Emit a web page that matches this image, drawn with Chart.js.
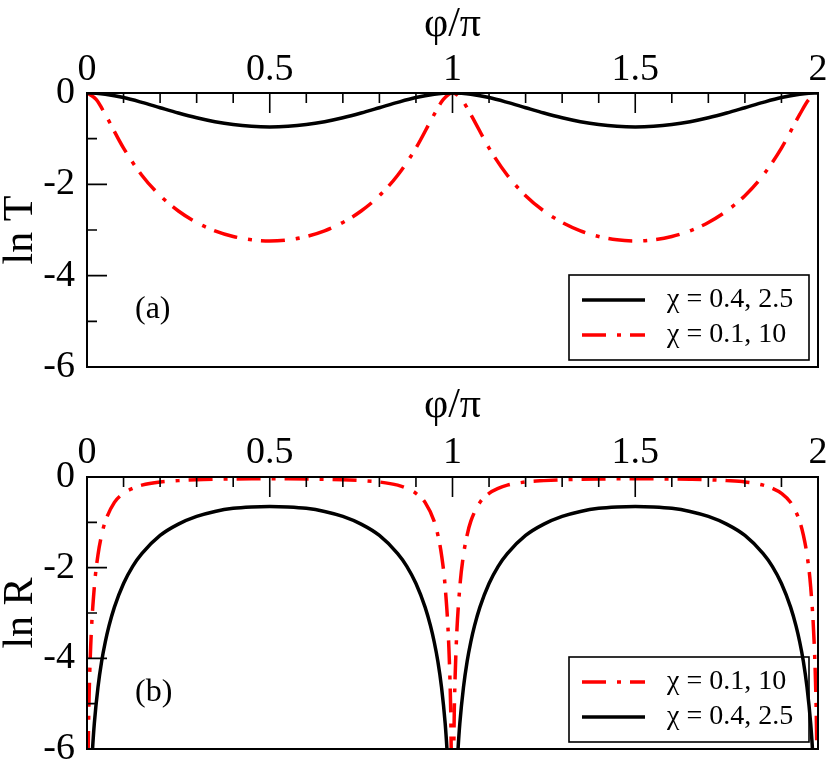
<!DOCTYPE html>
<html>
<head>
<meta charset="utf-8">
<script src="https://cdn.jsdelivr.net/npm/chart.js@4.4.0/dist/chart.umd.min.js"></script>
<style>
  html, body { margin: 0; padding: 0; background: #fff; }
  #wrap { position: relative; width: 830px; height: 767px; }
  .panel { position: absolute; left: 0; width: 830px; }
</style>
</head>
<body>
<div id="wrap">
  <div class="panel" style="top:0;height:383px"><canvas id="chartT" width="830" height="383"></canvas></div>
  <div class="panel" style="top:383px;height:384px"><canvas id="chartR" width="830" height="384"></canvas></div>
</div>
<script>
// panel (a): ln T against phi/pi
const phiT = [0, 0.025, 0.05, 0.1, 0.15, 0.2, 0.25, 0.3, 0.35, 0.4, 0.45, 0.5, 0.55, 0.6, 0.65, 0.7, 0.75, 0.8, 0.85, 0.9, 0.95, 0.975, 1,
  1.025, 1.05, 1.1, 1.15, 1.2, 1.25, 1.3, 1.35, 1.4, 1.45, 1.5, 1.55, 1.6, 1.65, 1.7, 1.75, 1.8, 1.85, 1.9, 1.95, 1.975, 2];
const lnT_chi04 = [0, -0.007, -0.027, -0.100, -0.205, -0.323, -0.439, -0.543, -0.629, -0.692, -0.730, -0.743, -0.730, -0.692, -0.629, -0.543, -0.439, -0.323, -0.205, -0.100, -0.027, -0.007, 0,
  -0.007, -0.027, -0.100, -0.205, -0.323, -0.439, -0.543, -0.629, -0.692, -0.730, -0.743, -0.730, -0.692, -0.629, -0.543, -0.439, -0.323, -0.205, -0.100, -0.027, -0.007, 0];
const lnT_chi01 = [0, -0.141, -0.469, -1.206, -1.800, -2.248, -2.584, -2.835, -3.018, -3.142, -3.215, -3.239, -3.215, -3.142, -3.018, -2.835, -2.584, -2.248, -1.800, -1.206, -0.469, -0.141, 0,
  -0.141, -0.469, -1.206, -1.800, -2.248, -2.584, -2.835, -3.018, -3.142, -3.215, -3.239, -3.215, -3.142, -3.018, -2.835, -2.584, -2.248, -1.800, -1.206, -0.469, -0.141, 0];

// panel (b): ln R against phi/pi
const phiR_chi04 = [0.012, 0.015, 0.02, 0.03, 0.04, 0.05, 0.06, 0.075, 0.1, 0.125, 0.15, 0.2, 0.25, 0.3, 0.35, 0.4, 0.45, 0.5,
  0.55, 0.6, 0.65, 0.7, 0.75, 0.8, 0.85, 0.875, 0.9, 0.925, 0.94, 0.95, 0.96, 0.97, 0.98, 0.985, 0.988,
  1.012, 1.015, 1.02, 1.03, 1.04, 1.05, 1.06, 1.075, 1.1, 1.125, 1.15, 1.2, 1.25, 1.3, 1.35, 1.4, 1.45, 1.5,
  1.55, 1.6, 1.65, 1.7, 1.75, 1.8, 1.85, 1.875, 1.9, 1.925, 1.94, 1.95, 1.96, 1.97, 1.98, 1.985, 1.988];
const lnR_chi04 = [-6.46, -6.02, -5.44, -4.64, -4.07, -3.64, -3.29, -2.87, -2.35, -1.97, -1.69, -1.29, -1.04, -0.87, -0.76, -0.69, -0.66, -0.65,
  -0.66, -0.69, -0.76, -0.87, -1.04, -1.29, -1.69, -1.97, -2.35, -2.87, -3.29, -3.64, -4.07, -4.64, -5.44, -6.02, -6.46,
  -6.46, -6.02, -5.44, -4.64, -4.07, -3.64, -3.29, -2.87, -2.35, -1.97, -1.69, -1.29, -1.04, -0.87, -0.76, -0.69, -0.66, -0.65,
  -0.66, -0.69, -0.76, -0.87, -1.04, -1.29, -1.69, -1.97, -2.35, -2.87, -3.29, -3.64, -4.07, -4.64, -5.44, -6.02, -6.46];
const phiR_chi01 = [0.003, 0.005, 0.01, 0.02, 0.03, 0.04, 0.05, 0.075, 0.1, 0.125, 0.15, 0.2, 0.25, 0.3, 0.35, 0.4, 0.45, 0.5,
  0.55, 0.6, 0.65, 0.7, 0.75, 0.8, 0.85, 0.875, 0.9, 0.925, 0.95, 0.96, 0.97, 0.98, 0.99, 0.995, 0.997,
  1.003, 1.005, 1.01, 1.02, 1.03, 1.04, 1.05, 1.075, 1.1, 1.125, 1.15, 1.2, 1.25, 1.3, 1.35, 1.4, 1.45, 1.5,
  1.55, 1.6, 1.65, 1.7, 1.75, 1.8, 1.85, 1.875, 1.9, 1.925, 1.95, 1.96, 1.97, 1.98, 1.99, 1.995, 1.997];
const lnR_chi01 = [-6.13, -5.11, -3.75, -2.43, -1.72, -1.28, -0.98, -0.56, -0.36, -0.25, -0.18, -0.11, -0.08, -0.06, -0.05, -0.044, -0.041, -0.040,
  -0.041, -0.044, -0.05, -0.06, -0.08, -0.11, -0.18, -0.25, -0.36, -0.56, -0.98, -1.28, -1.72, -2.43, -3.75, -5.11, -6.13,
  -6.13, -5.11, -3.75, -2.43, -1.72, -1.28, -0.98, -0.56, -0.36, -0.25, -0.18, -0.11, -0.08, -0.06, -0.05, -0.044, -0.041, -0.040,
  -0.041, -0.044, -0.05, -0.06, -0.08, -0.11, -0.18, -0.25, -0.36, -0.56, -0.98, -1.28, -1.72, -2.43, -3.75, -5.11, -6.13];

const labelChi04 = 'χ = 0.4, 2.5';
const labelChi01 = 'χ = 0.1, 10';
const xTitle = 'φ/π';

const SERIF = "'Liberation Serif', 'DejaVu Serif', serif";
const RED_DASH = [24, 11, 4, 9];

function pts(xs, ys) {
  return xs.map((x, i) => ({ x: x, y: ys[i] }));
}

// frame, inward ticks, inset legend and panel tag
const decor = {
  id: 'decor',
  afterDatasetsDraw(chart, args, opts) {
    const { ctx, chartArea: a, scales: { x, y } } = chart;
    ctx.save();
    ctx.strokeStyle = '#000';
    ctx.lineWidth = 2;
    ctx.setLineDash([]);
    ctx.strokeRect(a.left, a.top, a.right - a.left, a.bottom - a.top);

    ctx.lineWidth = 1.6;
    ctx.beginPath();
    for (let i = 0; i <= 20; i++) {
      const px = x.getPixelForValue(i / 10);
      const len = i % 5 === 0 ? 20 : 10;
      ctx.moveTo(px, a.top);
      ctx.lineTo(px, a.top + len);
    }
    for (let j = 0; j >= -6; j--) {
      const py = y.getPixelForValue(j);
      const len = j % 2 === 0 ? 20 : 10;
      ctx.moveTo(a.left, py);
      ctx.lineTo(a.left + len, py);
    }
    ctx.stroke();

    // legend box
    const bw = 240, bh = 85;
    const bx = a.right - 9 - bw, by = a.bottom - 7 - bh;
    ctx.lineWidth = 1.6;
    ctx.strokeRect(bx, by, bw, bh);
    ctx.font = '28px ' + SERIF;
    ctx.textBaseline = 'middle';
    ctx.textAlign = 'left';
    ctx.fillStyle = '#000';
    opts.items.forEach((it, k) => {
      const ry = by + 25 + k * 35;
      ctx.beginPath();
      ctx.strokeStyle = it.color;
      ctx.lineWidth = it.width;
      ctx.setLineDash(it.dash);
      ctx.moveTo(bx + 13, ry);
      ctx.lineTo(bx + 76, ry);
      ctx.stroke();
      ctx.setLineDash([]);
      ctx.fillText(it.text, bx + 98, ry);
    });

    // panel tag
    ctx.font = '32px ' + SERIF;
    ctx.textAlign = 'left';
    ctx.fillText(opts.tag, a.left + 48, y.getPixelForValue(-4.75));
    ctx.restore();
  }
};

function makePanel(id, datasets, yTitle, tag, items, topH, titlePad, tickPad, padBottom) {
  return new Chart(document.getElementById(id), {
    type: 'line',
    data: { datasets: datasets },
    options: {
      responsive: false,
      animation: false,
      layout: { padding: { left: 0, right: 12, top: 0, bottom: padBottom } },
      plugins: {
        legend: { display: false },
        tooltip: { enabled: false },
        decor: { tag: tag, items: items }
      },
      elements: { point: { radius: 0 } },
      scales: {
        x: {
          type: 'linear', position: 'top', min: 0, max: 2,
          grid: { display: false, drawTicks: false },
          border: { display: false },
          ticks: { stepSize: 0.5, autoSkip: false, maxRotation: 0, padding: tickPad, color: '#000',
                   callback: v => String(v),
                   font: { family: SERIF, size: 38, lineHeight: 1 } },
          title: { display: true, text: xTitle, color: '#000', padding: { top: titlePad, bottom: 0 },
                   font: { family: SERIF, size: 42, lineHeight: 1 } },
          afterFit(scale) {
            scale.height = topH;
            scale.paddingLeft = 0; scale.paddingRight = 0;
          }
        },
        y: {
          type: 'linear', min: -6, max: 0,
          grid: { display: false, drawTicks: false },
          border: { display: false },
          ticks: { stepSize: 2, padding: 12, color: '#000',
                   callback: v => String(v),
                   font: { family: SERIF, size: 38, lineHeight: 1 } },
          title: { display: true, text: yTitle, color: '#000', padding: { top: 0, bottom: 0 },
                   font: { family: SERIF, size: 42, lineHeight: 1 } },
          afterFit(scale) {
            scale.width = 87;
            scale.paddingTop = 0; scale.paddingBottom = 0;
          }
        }
      }
    },
    plugins: [decor]
  });
}

const blackLine = { borderColor: '#000', borderWidth: 3.5, borderDash: [], cubicInterpolationMode: 'monotone', fill: false };
const redLine = { borderColor: '#ff0000', borderWidth: 3.5, borderDash: RED_DASH, cubicInterpolationMode: 'monotone', fill: false };

makePanel('chartT', [
  Object.assign({ label: labelChi04, data: pts(phiT, lnT_chi04) }, blackLine),
  Object.assign({ label: labelChi01, data: pts(phiT, lnT_chi01) }, redLine)
], 'ln T', '(a)', [
  { text: labelChi04, color: '#000', width: 3.5, dash: [] },
  { text: labelChi01, color: '#ff0000', width: 3.5, dash: RED_DASH }
], 93, 4, 4, 16);

makePanel('chartR', [
  Object.assign({ label: labelChi01, data: pts(phiR_chi01, lnR_chi01) }, redLine),
  Object.assign({ label: labelChi04, data: pts(phiR_chi04, lnR_chi04) }, blackLine)
], 'ln R', '(b)', [
  { text: labelChi01, color: '#ff0000', width: 3.5, dash: RED_DASH },
  { text: labelChi04, color: '#000', width: 3.5, dash: [] }
], 94, 2, 5, 18);
</script>
</body>
</html>
